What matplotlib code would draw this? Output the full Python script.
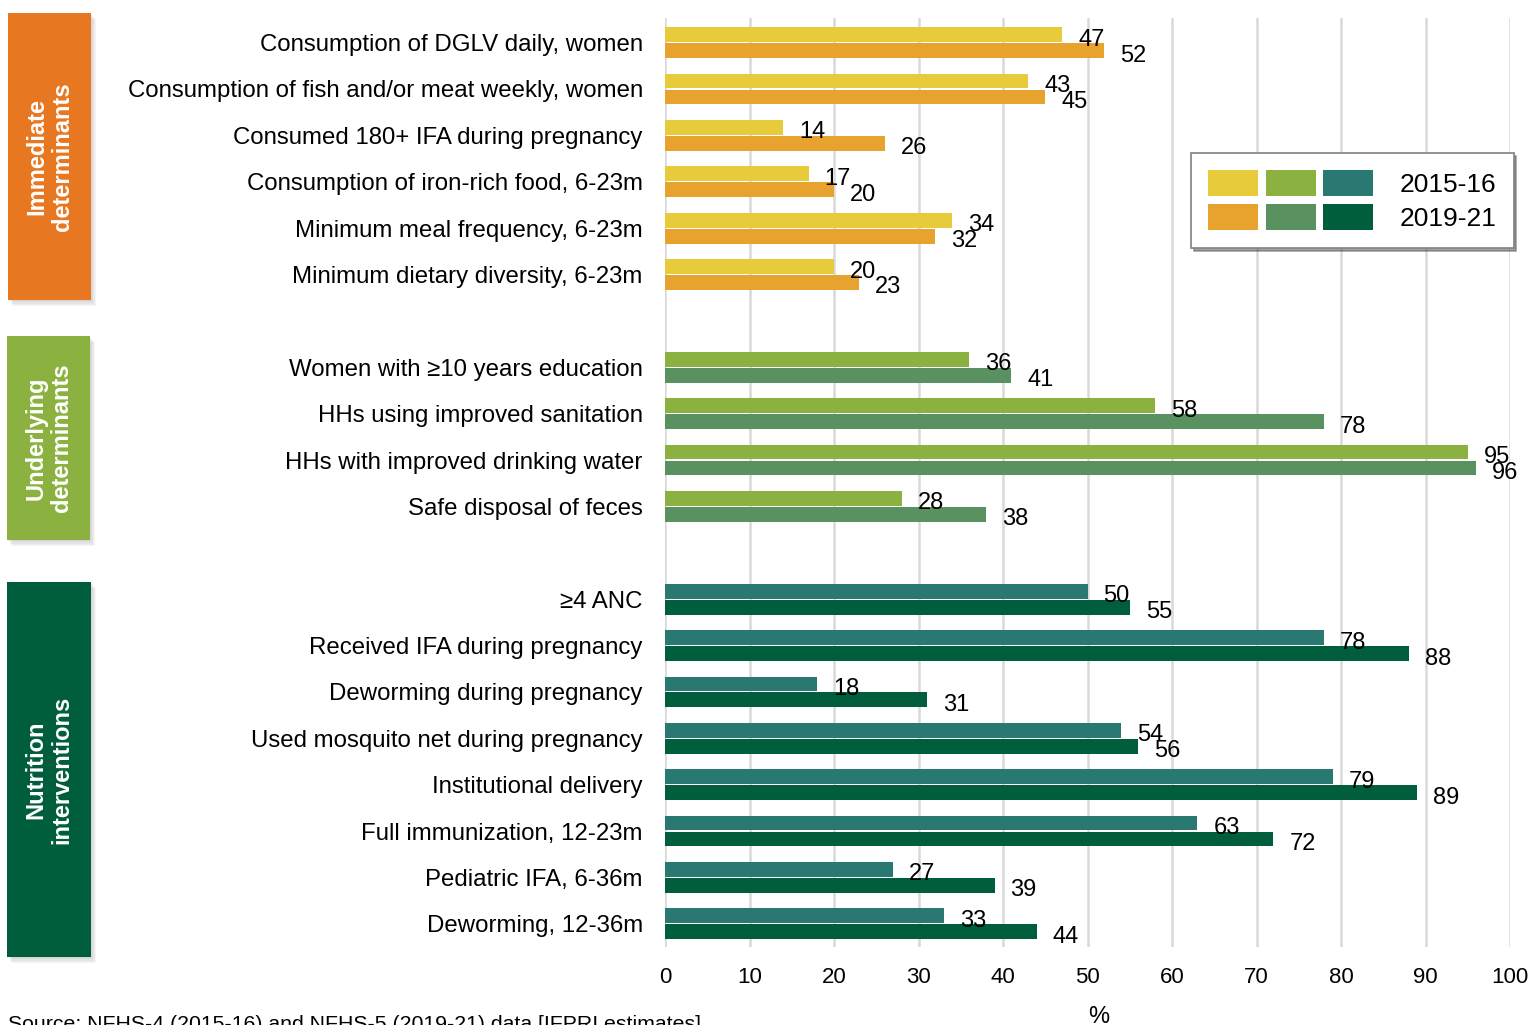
import matplotlib
matplotlib.use("Agg")
import matplotlib.pyplot as plt
from matplotlib.patches import Patch, Rectangle
from matplotlib.legend_handler import HandlerTuple

plt.rcParams['font.family'] = ['Liberation Sans', 'DejaVu Sans']

# ---- data -------------------------------------------------------------
immediate_labels = [
    "Consumption of DGLV daily, women",
    "Consumption of fish and/or meat weekly, women",
    "Consumed 180+ IFA during pregnancy",
    "Consumption of iron-rich food, 6-23m",
    "Minimum meal frequency, 6-23m",
    "Minimum dietary diversity, 6-23m",
]
immediate_2015 = [47, 43, 14, 17, 34, 20]
immediate_2019 = [52, 45, 26, 20, 32, 23]

underlying_labels = [
    "Women with \u226510 years education",
    "HHs using improved sanitation",
    "HHs with improved drinking water",
    "Safe disposal of feces",
]
underlying_2015 = [36, 58, 95, 28]
underlying_2019 = [41, 78, 96, 38]

intervention_labels = [
    "\u22654 ANC",
    "Received IFA during pregnancy",
    "Deworming during pregnancy",
    "Used mosquito net during pregnancy",
    "Institutional delivery",
    "Full immunization, 12-23m",
    "Pediatric IFA, 6-36m",
    "Deworming, 12-36m",
]
intervention_2015 = [50, 78, 18, 54, 79, 63, 27, 33]
intervention_2019 = [55, 88, 31, 56, 89, 72, 39, 44]

period_labels = ["2015-16", "2019-21"]
x_ticks = list(range(0, 101, 10))
source_note = "Source: NFHS-4 (2015-16) and NFHS-5 (2019-21) data [IFPRI estimates]"

# ---- styling ----------------------------------------------------------
groups = [
    dict(title="Immediate\ndeterminants", labels=immediate_labels,
         v1=immediate_2015, v2=immediate_2019,
         c1="#E8CB3A", c2="#E8A22E", box="#E87722",
         box_px=(8, 13, 91, 300)),
    dict(title="Underlying\ndeterminants", labels=underlying_labels,
         v1=underlying_2015, v2=underlying_2019,
         c1="#8BB240", c2="#5A9160", box="#8BB240",
         box_px=(7, 336, 90, 540)),
    dict(title="Nutrition\ninterventions", labels=intervention_labels,
         v1=intervention_2015, v2=intervention_2019,
         c1="#2A7872", c2="#005E3C", box="#005E3C",
         box_px=(7, 582, 91, 957)),
]

W, H = 1535, 1025
fig = plt.figure(figsize=(W / 100, H / 100), dpi=100)
fig.patch.set_facecolor("white")

ax = fig.add_axes([665 / W, 1 - 947 / H, 845 / W, 929 / H])

bar_h = 0.32
off = 0.172
fs = 17.3

ticks, tick_labels = [], []
slot = 0
for g in groups:
    for lab, a, b in zip(g["labels"], g["v1"], g["v2"]):
        ax.barh(slot - off, a, height=bar_h, color=g["c1"], zorder=3)
        ax.barh(slot + off, b, height=bar_h, color=g["c2"], zorder=3)
        for v, y in ((a, slot - off), (b, slot + off)):
            ax.annotate(str(v), xy=(v, y), xytext=(16, -11),
                        textcoords="offset pixels", ha="left", va="baseline",
                        fontsize=17, color="black", zorder=4)
        ticks.append(slot)
        tick_labels.append(lab)
        slot += 1
    slot += 1  # blank row between groups

ax.set_xlim(0, 100)
ax.set_ylim(19.5, -0.53)
ax.set_xticks(x_ticks)
ax.set_xticklabels([str(t) for t in x_ticks])
ax.set_yticks(ticks)
ax.set_yticklabels(tick_labels)
ax.tick_params(axis="y", length=0, pad=16, labelsize=fs)
ax.tick_params(axis="x", length=0, pad=14.5, labelsize=16)
ax.grid(axis="x", color="#D9D9D9", linewidth=1.8, zorder=0)
ax.set_axisbelow(True)
for s in ax.spines.values():
    s.set_visible(False)

ax.text(0.5136, -0.075, "%", transform=ax.transAxes, ha="center", va="center",
        fontsize=17)

# group boxes on the left, with a soft drop shadow
for g in groups:
    x0, y0, x1, y1 = g["box_px"]
    fx, fy = x0 / W, 1 - y1 / H
    fw, fh = (x1 - x0) / W, (y1 - y0) / H
    for k in range(1, 6):
        fig.patches.append(Rectangle((fx + 1.0 * k / W, fy - 1.2 * k / H), fw, fh,
                                     transform=fig.transFigure,
                                     facecolor="#7F7F7F", alpha=0.07,
                                     edgecolor="none", zorder=1))
    fig.patches.append(Rectangle((fx, fy), fw, fh, transform=fig.transFigure,
                                 facecolor=g["box"], edgecolor="none", zorder=2))
    fig.text(fx + fw / 2, fy + fh / 2, g["title"], rotation=90,
             ha="center", va="center", multialignment="center",
             color="white", fontsize=17, fontweight="bold", linespacing=1.15,
             zorder=3)

# legend: three swatches per period
h1 = tuple(Patch(facecolor=g["c1"]) for g in groups)
h2 = tuple(Patch(facecolor=g["c2"]) for g in groups)
leg = ax.legend([h1, h2], period_labels,
                handler_map={tuple: HandlerTuple(ndivide=None, pad=0.27)},
                loc="upper left", bbox_to_anchor=((1191 - 665) / 845, (947 - 153) / 929),
                borderaxespad=0, fontsize=19, handlelength=6.25, handleheight=1.15,
                handletextpad=1.0, labelspacing=0.25, borderpad=0.65,
                frameon=True, fancybox=False, shadow=True, framealpha=1)
leg.get_frame().set_edgecolor("#808080")
leg.get_frame().set_linewidth(1.2)

fig.text(8 / W, 1 - 1015 / H, source_note, ha="left", va="top", fontsize=15.3)

fig.savefig("out.png", dpi=100)
